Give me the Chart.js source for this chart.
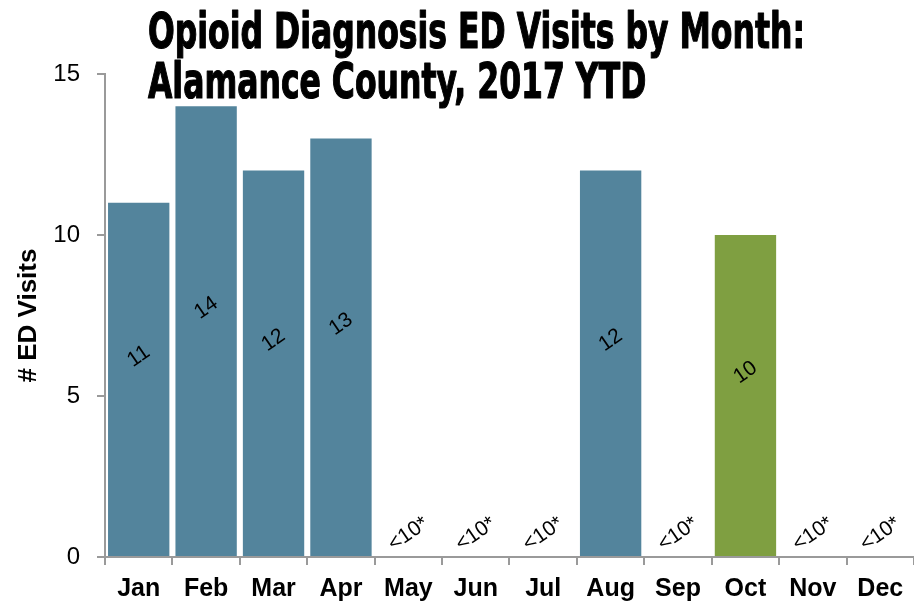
<!DOCTYPE html>
<html lang="en">
<head>
<meta charset="utf-8">
<script src="https://cdn.jsdelivr.net/npm/chart.js@4.4.0/dist/chart.umd.min.js"></script>
<style>
  html, body { margin: 0; padding: 0; background: #fff; overflow: hidden; }
  .wrap { width: 914px; height: 605px; position: relative; }
</style>
</head>
<body>
<div class="wrap"><canvas id="edChart"></canvas></div>
<script>
  // data
  const months = ['Jan', 'Feb', 'Mar', 'Apr', 'May', 'Jun', 'Jul', 'Aug', 'Sep', 'Oct', 'Nov', 'Dec'];
  const visits = [11, 14, 12, 13, 0, 0, 0, 12, 0, 10, 0, 0];
  const suppressed = [false, false, false, false, true, true, true, false, true, false, true, true];
  const suppressedText = '<10*';
  const yTicks = [0, 5, 10, 15];
  const titleLines = ['Opioid Diagnosis ED Visits by Month:', 'Alamance County, 2017 YTD'];
  const yAxisTitle = '# ED Visits';
  const highlightMonth = 'Oct';

  const BLUE = '#53849c';
  const GREEN = '#7f9f41';
  const AXIS = '#9a9a9a';
  const FONT = "'Liberation Sans', Arial, sans-serif";

  // value labels, rotated, a bit above the middle of each bar
  const barLabels = {
    id: 'barLabels',
    afterDatasetsDraw(chart) {
      const ctx = chart.ctx;
      const meta = chart.getDatasetMeta(0);
      ctx.save();
      ctx.fillStyle = '#000';
      ctx.font = '21px ' + FONT;
      ctx.textAlign = 'center';
      ctx.textBaseline = 'middle';
      meta.data.forEach((bar, i) => {
        const text = suppressed[i] ? suppressedText : String(visits[i]);
        const y = (bar.y + bar.base) / 2 - 23;
        ctx.save();
        ctx.translate(bar.x, y);
        ctx.rotate(-35 * Math.PI / 180);
        ctx.fillText(text, 0, 0);
        ctx.restore();
      });
      ctx.restore();
    }
  };

  // condensed two-line title drawn over the top of the plot
  const titleOverlay = {
    id: 'titleOverlay',
    afterDraw(chart) {
      const ctx = chart.ctx;
      ctx.save();
      ctx.fillStyle = '#000';
      ctx.strokeStyle = '#000';
      ctx.lineWidth = 1.2;
      ctx.lineJoin = 'round';
      ctx.font = "bold 49px 'Liberation Sans Narrow', 'DejaVu Sans Condensed', sans-serif";
      ctx.textAlign = 'left';
      ctx.textBaseline = 'alphabetic';
      const sx = 657 / ctx.measureText(titleLines[0]).width;
      titleLines.forEach((line, i) => {
        ctx.save();
        ctx.translate(148, 48 + i * 50);
        ctx.scale(sx, 1);
        ctx.fillText(line, 0, 0);
        ctx.strokeText(line, 0, 0);
        ctx.restore();
      });
      ctx.restore();
    }
  };

  new Chart(document.getElementById('edChart'), {
    type: 'bar',
    data: {
      labels: months,
      datasets: [{
        data: visits,
        backgroundColor: (c) => months[c.dataIndex] === highlightMonth ? GREEN : BLUE,
        borderWidth: 0,
        barPercentage: 0.91,
        categoryPercentage: 1
      }]
    },
    options: {
      responsive: true,
      maintainAspectRatio: false,
      animation: false,
      layout: { padding: { left: 13, top: 74, right: 0, bottom: 1 } },
      plugins: {
        legend: { display: false },
        tooltip: { enabled: false }
      },
      scales: {
        x: {
          afterFit: (axis) => { axis.height = 47; },
          grid: { drawOnChartArea: false, tickLength: 8, color: AXIS, lineWidth: 2 },
          border: { color: AXIS, width: 2 },
          ticks: { color: '#000', font: { family: FONT, size: 25, weight: 'bold' }, padding: 9, maxRotation: 0 }
        },
        y: {
          min: yTicks[0],
          max: yTicks[yTicks.length - 1],
          afterBuildTicks: (axis) => { axis.ticks = yTicks.map(v => ({ value: v })); },
          afterFit: (axis) => { axis.width = 92; },
          grid: { drawOnChartArea: false, tickLength: 8, color: AXIS, lineWidth: 2 },
          border: { color: AXIS, width: 2 },
          ticks: { color: '#000', font: { family: FONT, size: 24 }, padding: 17 },
          title: {
            display: true,
            text: yAxisTitle,
            color: '#000',
            font: { family: FONT, size: 26, weight: 'bold' },
            padding: { top: 0, bottom: 9 }
          }
        }
      }
    },
    plugins: [barLabels, titleOverlay]
  });
</script>
</body>
</html>
